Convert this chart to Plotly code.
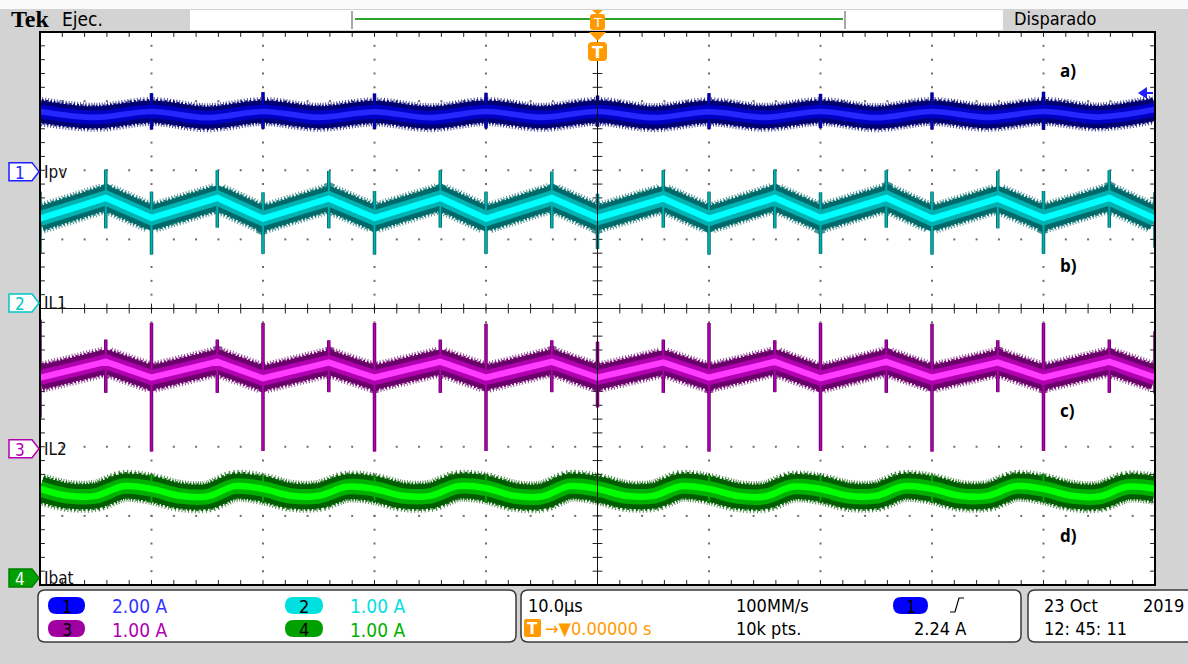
import numpy as np
import plotly.graph_objects as go

# ---------------- data read from the oscilloscope screen ----------------
# time axis: 10.0 us/div, trigger at centre -> -50 .. 50 us
ch_names = ["Ipv", "IL1", "IL2", "Ibat"]
ch_scale = [2.0, 1.0, 1.0, 1.0]          # A/div  (2.00 A, 1.00 A, 1.00 A, 1.00 A)
ch_pos = [1.98, 0.08, -2.03, -3.90]      # ground marker position, divisions

# Ch1 Ipv (A)
ipv_t = [-50, -45, -40, -35, -30, -25, -20, -15, -10, -5, 0, 5, 10, 15, 20, 25, 30, 35, 40, 45, 50]
ipv_a = [1.74, 1.57, 1.74, 1.56, 1.74, 1.57, 1.73, 1.56, 1.74, 1.57, 1.74, 1.56, 1.73, 1.57, 1.74,
         1.56, 1.74, 1.57, 1.74, 1.58, 1.80]
ipv_spike_t = [-40, -30, -20, -10, 0, 10, 20, 30, 40]
ipv_spike_hi = [2.27, 2.30, 2.26, 2.28, 2.20, 2.27, 2.25, 2.29, 2.31]
ipv_spike_lo = [1.22, 1.24, 1.23, 1.25, 1.30, 1.23, 1.26, 1.22, 1.21]

# Ch2 IL1 (A)
il1_t = [-50, -44.1, -40, -34.1, -30, -24.1, -20, -14.1, -10, -4.1, 0, 5.9, 10, 15.9, 20, 25.9,
         30, 35.9, 40, 45.9, 50]
il1_a = [1.22, 1.52, 1.23, 1.52, 1.22, 1.51, 1.23, 1.52, 1.22, 1.52, 1.23, 1.51, 1.22, 1.52, 1.23,
         1.52, 1.22, 1.51, 1.23, 1.52, 1.22]
il1_spike_hi = [1.61, 1.93, 1.61, 1.92, 1.60, 1.91, 1.62, 1.92, 1.61, 1.90, 1.58, 1.92, 1.61, 1.93,
                1.60, 1.92, 1.61, 1.91, 1.62, 1.92, 1.60]
il1_spike_lo = [0.72, 1.08, 0.70, 1.09, 0.71, 1.08, 0.70, 1.09, 0.71, 1.08, 0.78, 1.09, 0.70, 1.08,
                0.71, 1.09, 0.70, 1.08, 0.71, 1.09, 0.80]

# Ch3 IL2 (A)
il2_t = il1_t
il2_a = [1.03, 1.26, 1.03, 1.26, 1.02, 1.25, 1.03, 1.26, 1.03, 1.26, 1.03, 1.25, 1.03, 1.26, 1.02,
         1.26, 1.03, 1.25, 1.03, 1.26, 1.03]
il2_spike_hi = [1.87, 1.58, 1.82, 1.58, 1.82, 1.57, 1.82, 1.58, 1.81, 1.57, 1.55, 1.58, 1.82, 1.57,
                1.82, 1.58, 1.81, 1.57, 1.82, 1.58, 1.70]
il2_spike_lo = [0.45, 0.81, -0.04, 0.81, -0.03, 0.82, -0.04, 0.81, -0.03, 0.82, 0.60, 0.81, -0.04,
                0.82, -0.03, 0.81, -0.04, 0.82, -0.03, 0.81, 0.80]

# Ch4 Ibat (A)
ibat_t = [-50, -47.5, -45, -42.5, -40, -37.5, -35, -32.5, -30, -27.5, -25, -22.5, -20, -17.5, -15,
          -12.5, -10, -7.5, -5, -2.5, 0, 2.5, 5, 7.5, 10, 12.5, 15, 17.5, 20, 22.5, 25, 27.5, 30,
          32.5, 35, 37.5, 40, 42.5, 45, 47.5, 50]
ibat_a = [1.29, 1.19, 1.19, 1.33, 1.29, 1.19, 1.18, 1.33, 1.29, 1.19, 1.19, 1.32, 1.29, 1.19, 1.19,
          1.33, 1.30, 1.19, 1.18, 1.33, 1.29, 1.19, 1.19, 1.33, 1.29, 1.19, 1.18, 1.32, 1.29, 1.19,
          1.19, 1.33, 1.29, 1.19, 1.19, 1.33, 1.29, 1.19, 1.18, 1.32, 1.29]
ibat_spike_t = [-40, -30, -20, -10, 0, 10, 20, 30, 40]
ibat_spike_hi = [1.50, 1.48, 1.47, 1.49, 1.46, 1.48, 1.47, 1.49, 1.50]
ibat_spike_lo = [1.10, 1.11, 1.12, 1.10, 1.12, 1.11, 1.12, 1.10, 1.11]

scale_labels = ["2.00 A", "1.00 A", "1.00 A", "1.00 A"]
timebase = "10.0\u00b5s"
sample_rate = "100MM/s"
record_len = "10k pts."
trig_level = "2.24 A"
trig_pos = "0.00000 s"
date_txt = "23 Oct"
year_txt = "2019"
time_txt = "12: 45: 11"

# ---------------- styling ----------------
W, H = 1188, 664
PL, PR, PT, PB = 40, 1155, 32, 585
GRAY = "#D3D3D3"
ORANGE = "#FF9A00"
TEKFONT = "DejaVu Sans Condensed, Liberation Sans Narrow, DejaVu Sans, sans-serif"

ch_cols = [
    ("#000070", "#0000C4", "#2626FF"),
    ("#006A6A", "#00B2B2", "#00FFFF"),
    ("#6A006A", "#B000B0", "#FF3CFF"),
    ("#005E00", "#00B000", "#00FF00"),
]
band_w = [22, 24, 24, 25]
text_cols = ["#3333FF", "#00E0E0", "#B000B0", "#00B000"]


def px(x):
    return (x - PL) / (PR - PL)


def py(y):
    return (PB - y) / (PB - PT)


def path_px(points, close=True):
    s = "M " + " L ".join(f"{px(x):.5f},{py(y):.5f}" for x, y in points)
    return s + (" Z" if close else "")


def rr_path(x0, y0, x1, y1, r):
    def p(x, y):
        return f"{px(x):.5f},{py(y):.5f}"
    return (f"M {p(x0 + r, y0)} L {p(x1 - r, y0)} Q {p(x1, y0)} {p(x1, y0 + r)} "
            f"L {p(x1, y1 - r)} Q {p(x1, y1)} {p(x1 - r, y1)} L {p(x0 + r, y1)} "
            f"Q {p(x0, y1)} {p(x0, y1 - r)} L {p(x0, y0 + r)} Q {p(x0, y0)} {p(x0 + r, y0)} Z")


def spike_xy(ts, his, los):
    xs, ys = [], []
    for t, h, l in zip(ts, his, los):
        xs += [t, t, None]
        ys += [l, h, None]
    return xs, ys


fig = go.Figure()

# ---------------- graticule ----------------
minor_x = np.arange(-50, 50.001, 2.0)
minor_y = np.arange(-4, 4.001, 0.2)
gx, gy = [], []
for yl in [-3, -2, -1, 1, 2, 3]:
    gx += list(minor_x)
    gy += [yl] * len(minor_x)
for xl in [-40, -30, -20, -10, 10, 20, 30, 40]:
    gx += [xl] * len(minor_y)
    gy += list(minor_y)
fig.add_trace(go.Scatter(x=gx, y=gy, mode="markers", hoverinfo="skip",
                         marker=dict(symbol="square", size=2, color="#6E6E6E", line=dict(width=0))))
fig.add_trace(go.Scatter(x=list(minor_x) * 3, y=[0] * len(minor_x) + [4] * len(minor_x) + [-4] * len(minor_x),
                         mode="markers", hoverinfo="skip",
                         marker=dict(symbol="line-ns", size=7, line=dict(width=1, color="#202020"))))
fig.add_trace(go.Scatter(x=[0] * len(minor_y) + [-50] * len(minor_y) + [50] * len(minor_y), y=list(minor_y) * 3,
                         mode="markers", hoverinfo="skip",
                         marker=dict(symbol="line-ew", size=7, line=dict(width=1, color="#202020"))))

# ---------------- waveforms ----------------
waves = [
    (ipv_t, ipv_a, "spline", ipv_spike_t, ipv_spike_hi, ipv_spike_lo),
    (il1_t, il1_a, "linear", il1_t, il1_spike_hi, il1_spike_lo),
    (il2_t, il2_a, "linear", il2_t, il2_spike_hi, il2_spike_lo),
    (ibat_t, ibat_a, "spline", ibat_spike_t, ibat_spike_hi, ibat_spike_lo),
]
for i, (t, a, shape, st, sh, sl) in enumerate(waves):
    ya = f"y{i + 2}"
    outer, mid, core = ch_cols[i]
    bw = band_w[i]
    sx, sy = spike_xy(st, sh, sl)
    # noisy fringe of the persistence trace
    fig.add_trace(go.Scatter(x=t, y=a, yaxis=ya, mode="lines", hoverinfo="skip", opacity=0.7,
                             line=dict(color=outer, width=bw + 7, shape=shape, dash="1px,2px")))
    fig.add_trace(go.Scatter(x=t, y=a, yaxis=ya, mode="lines", hoverinfo="skip", opacity=0.9,
                             line=dict(color=outer, width=bw + 3, shape=shape, dash="2px,2px")))
    fig.add_trace(go.Scatter(x=t, y=a, yaxis=ya, mode="lines", hoverinfo="skip",
                             line=dict(color=outer, width=bw, shape=shape)))
    fig.add_trace(go.Scatter(x=sx, y=sy, yaxis=ya, mode="lines", hoverinfo="skip",
                             line=dict(color=outer, width=3.5)))
    fig.add_trace(go.Scatter(x=t, y=a, yaxis=ya, mode="lines", hoverinfo="skip",
                             line=dict(color=mid, width=bw * 0.62, shape=shape)))
    fig.add_trace(go.Scatter(x=sx, y=sy, yaxis=ya, mode="lines", hoverinfo="skip",
                             line=dict(color=mid, width=1.8)))
    fig.add_trace(go.Scatter(x=t, y=a, yaxis=ya, mode="lines", hoverinfo="skip",
                             line=dict(color=core, width=bw * 0.26, shape=shape)))

# ---------------- axes ----------------
layout_axes = {}
for i in range(4):
    s, p = ch_scale[i], ch_pos[i]
    layout_axes[f"yaxis{i + 2}"] = dict(overlaying="y", range=[(-4 - p) * s, (4 - p) * s],
                                        visible=False, fixedrange=True)

shapes = []
shapes.append(dict(type="rect", xref="paper", yref="paper", x0=px(0), x1=px(W), y0=py(0), y1=py(9),
                   fillcolor="#FAFAFA", line=dict(width=0), layer="below"))
shapes.append(dict(type="rect", xref="paper", yref="paper", x0=px(190), x1=px(1003), y0=py(10), y1=py(30),
                   fillcolor="white", line=dict(width=0)))
shapes.append(dict(type="line", xref="paper", yref="paper", x0=px(355), x1=px(843), y0=py(19), y1=py(19),
                   line=dict(color="#2AA52A", width=2)))
for bx in (352, 845):
    shapes.append(dict(type="line", xref="paper", yref="paper", x0=px(bx), x1=px(bx), y0=py(11), y1=py(29),
                       line=dict(color="#A8A8A8", width=2)))
shapes.append(dict(type="line", xref="x", yref="y", x0=-50, x1=50, y0=0, y1=0, line=dict(color="#101010", width=1)))
shapes.append(dict(type="line", xref="x", yref="y", x0=0, x1=0, y0=-4, y1=4, line=dict(color="#101010", width=1)))
shapes.append(dict(type="rect", xref="paper", yref="paper", x0=0, x1=1, y0=0, y1=1,
                   line=dict(color="#000000", width=2)))
shapes.append(dict(type="path", xref="paper", yref="paper", path=path_px([(592, 10), (603, 10), (597.5, 15)]),
                   fillcolor=ORANGE, line=dict(width=0)))
shapes.append(dict(type="path", xref="paper", yref="paper", path=rr_path(590, 14, 605, 30, 3),
                   fillcolor=ORANGE, line=dict(width=0)))
shapes.append(dict(type="path", xref="paper", yref="paper", path=path_px([(589, 32), (606, 32), (597.5, 41)]),
                   fillcolor=ORANGE, line=dict(width=0)))
shapes.append(dict(type="path", xref="paper", yref="paper", path=rr_path(588, 42, 607, 61, 4),
                   fillcolor=ORANGE, line=dict(width=0)))
shapes.append(dict(type="path", xref="paper", yref="paper", path=path_px([(1138, 93), (1147, 87), (1147, 99)]),
                   fillcolor="#2020FF", line=dict(width=0)))
shapes.append(dict(type="line", xref="paper", yref="paper", x0=px(1145), x1=px(1153), y0=py(93), y1=py(93),
                   line=dict(color="#2020FF", width=2)))

marker_y = [PT + (4 - p) * (PB - PT) / 8 for p in ch_pos]
for i, yc in enumerate(marker_y):
    pts = [(9, yc - 9), (32, yc - 9), (39, yc), (32, yc + 9), (9, yc + 9)]
    fill = "#00A000" if i == 3 else "white"
    edge = ["#1E1EFF", "#00C8C8", "#B000B0", "#008000"][i]
    shapes.append(dict(type="path", xref="paper", yref="paper", path=path_px(pts),
                       fillcolor=fill, line=dict(color=edge, width=1.5)))

for (x0, x1) in [(38, 516), (521, 1021), (1028, 1210)]:
    shapes.append(dict(type="path", xref="paper", yref="paper", path=rr_path(x0, 590, x1, 642, 7),
                       fillcolor="white", line=dict(color="#3A3A3A", width=1.5)))
pill_cols = ["#0000FF", "#00E0E0", "#A000A0", "#00A000"]
pill_pos = [(48, 597, 85, 614), (285, 597, 323, 614), (48, 620, 85, 637), (285, 620, 323, 637)]
for c, (x0, y0, x1, y1) in zip(pill_cols, pill_pos):
    shapes.append(dict(type="path", xref="paper", yref="paper", path=rr_path(x0, y0, x1, y1, 8.5),
                       fillcolor=c, line=dict(width=0)))
shapes.append(dict(type="path", xref="paper", yref="paper", path=rr_path(893, 597, 928, 614, 8.5),
                   fillcolor="#0000FF", line=dict(width=0)))
shapes.append(dict(type="path", xref="paper", yref="paper", path=rr_path(524, 619, 541, 637, 2),
                   fillcolor=ORANGE, line=dict(width=0)))
shapes.append(dict(type="path", xref="paper", yref="paper",
                   path=path_px([(950, 612), (955, 612), (959, 598), (964, 598)], close=False),
                   line=dict(color="#000000", width=1.2)))

ann = []


def text(x, y, s, size=18, color="black", family=TEKFONT, anchor="left"):
    ann.append(dict(x=px(x), y=py(y), xref="paper", yref="paper", text=s, showarrow=False,
                    xanchor=anchor, yanchor="middle",
                    font=dict(size=size, color=color, family=family)))


text(9, 19, "<b>Tek</b>", size=24, family="Liberation Serif, DejaVu Serif, serif")
text(60, 19, "Ejec.", size=19)
text(1012, 19, "Disparado", size=18)
text(597.5, 22, "T", size=13, color="white", anchor="center", family="DejaVu Sans")
text(597.5, 52, "<b>T</b>", size=16, color="white", anchor="center", family="DejaVu Sans")

for i, yc in enumerate(marker_y):
    ncol = ["#1E1EFF", "#00C8C8", "#B000B0", "white"][i]
    text(20, yc + 1, str(i + 1), size=17, color=ncol, anchor="center")
    text(42, yc, ch_names[i], size=17, color="#111111")

for lab, yy in zip(["a)", "b)", "c)", "d)"], [70, 265, 410, 535]):
    text(1058, yy, f"<b>{lab}</b>", size=17, family="Open Sans, Lato, sans-serif")

for i, (x0, y0, x1, y1) in enumerate(pill_pos):
    text((x0 + x1) / 2, (y0 + y1) / 2 + 1, str(i + 1), size=18, color="black", anchor="center")
    text(x1 + 25, (y0 + y1) / 2 + 1, scale_labels[i], size=19, color=text_cols[i])

text(526, 605, timebase, size=18)
text(543, 628, "\u2192\u25bc" + trig_pos, size=18, color=ORANGE)
text(532.5, 629, "<b>T</b>", size=15, color="white", anchor="center", family="DejaVu Sans")
text(734, 605, sample_rate, size=18)
text(734, 628, record_len, size=18)
text(910.5, 606, "1", size=18, color="black", anchor="center")
text(912, 628, trig_level, size=18)
text(1042, 605, date_txt, size=18)
text(1141, 605, year_txt, size=18)
text(1042, 628, time_txt, size=18)

fig.update_layout(
    width=W, height=H,
    margin=dict(l=PL, r=W - PR, t=PT, b=H - PB, pad=0),
    paper_bgcolor=GRAY, plot_bgcolor="white",
    showlegend=False, hovermode=False,
    xaxis=dict(range=[-50, 50], visible=False, fixedrange=True),
    yaxis=dict(range=[-4, 4], visible=False, fixedrange=True),
    shapes=shapes, annotations=ann,
    **layout_axes,
)

fig.write_html("out.html", config={"displayModeBar": False},
               post_script="document.body.style.margin='0';document.body.style.overflow='hidden';")
